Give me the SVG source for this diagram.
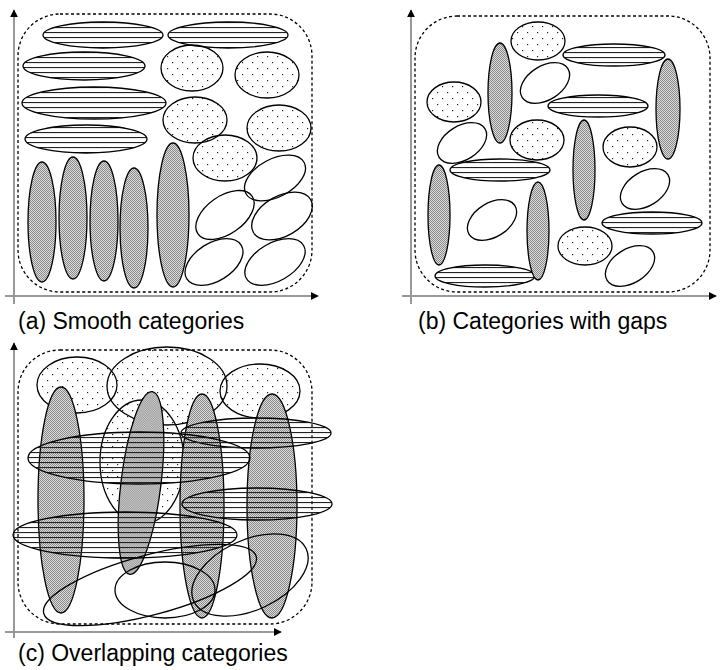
<svg xmlns="http://www.w3.org/2000/svg" width="723" height="670" viewBox="0 0 723 670">
<defs>
<pattern id="hatch" width="6" height="5" patternUnits="userSpaceOnUse"><rect x="0" y="2" width="6" height="1.1" fill="#222"/></pattern>
<pattern id="dots" width="10" height="12" patternUnits="userSpaceOnUse"><rect x="2" y="2" width="1.2" height="1.2" fill="#222"/><rect x="7" y="8" width="1.2" height="1.2" fill="#222"/></pattern>
<pattern id="gray" width="2" height="2" patternUnits="userSpaceOnUse"><rect width="2" height="2" fill="#dcdcdc"/><rect width="1" height="1" fill="#8a8a8a"/><rect x="1" y="1" width="1" height="1" fill="#8a8a8a"/></pattern>
<marker id="arr" viewBox="0 0 10 10" refX="9" refY="5" markerWidth="8" markerHeight="8" markerUnits="userSpaceOnUse" orient="auto"><path d="M0,0 L10,5 L0,10 z" fill="#000"/></marker>
</defs>
<style>
.ax{stroke:#999;stroke-width:2;fill:none}
.box{fill:none;stroke:#000;stroke-width:1.3;stroke-dasharray:3 2.5}
.h{fill:url(#hatch);stroke:#000;stroke-width:1.3}
.d{fill:url(#dots);stroke:#000;stroke-width:1.3}
.g{fill:url(#gray);stroke:#000;stroke-width:1.3}
.w{fill:none;stroke:#000;stroke-width:1.3}
.lbl{font-family:"Liberation Sans",Arial,sans-serif;font-size:23px;fill:#000}
</style>
<rect width="723" height="670" fill="#fff"/>

<g id="panel-a">
<g id="axes-a">
<line class="ax" x1="14" y1="304" x2="14" y2="10" marker-end="url(#arr)"/>
<line class="ax" x1="5" y1="296" x2="318" y2="296" marker-end="url(#arr)"/>
</g>
<rect class="box" x="18" y="14" width="294" height="278" rx="42" ry="42"/>
<ellipse class="h" cx="103" cy="35" rx="60" ry="13"/>
<ellipse class="h" cx="84" cy="66" rx="61" ry="14"/>
<ellipse class="h" cx="94" cy="103" rx="72" ry="16"/>
<ellipse class="h" cx="86" cy="139" rx="61" ry="14"/>
<ellipse class="h" cx="228" cy="35" rx="60" ry="13"/>
<ellipse class="d" cx="192" cy="68" rx="31" ry="23"/>
<ellipse class="d" cx="267" cy="75" rx="32" ry="23"/>
<ellipse class="d" cx="195" cy="120" rx="32" ry="23"/>
<ellipse class="d" cx="279" cy="128" rx="32" ry="23"/>
<ellipse class="d" cx="225" cy="158" rx="32" ry="23"/>
<ellipse class="w" cx="0" cy="0" rx="33" ry="19" transform="translate(275 178) rotate(-28)"/>
<ellipse class="w" cx="0" cy="0" rx="33" ry="19" transform="translate(225 215) rotate(-35)"/>
<ellipse class="w" cx="0" cy="0" rx="33" ry="20" transform="translate(282 216) rotate(-30)"/>
<ellipse class="w" cx="0" cy="0" rx="32" ry="19" transform="translate(214 262) rotate(-32)"/>
<ellipse class="w" cx="0" cy="0" rx="33" ry="19" transform="translate(275 262) rotate(-30)"/>
<ellipse class="g" cx="42" cy="222" rx="14" ry="60"/>
<ellipse class="g" cx="73" cy="218" rx="14" ry="61"/>
<ellipse class="g" cx="104" cy="221" rx="14" ry="60"/>
<ellipse class="g" cx="134" cy="228" rx="14" ry="60"/>
<ellipse class="g" cx="173" cy="215" rx="16" ry="72"/>
<text class="lbl" x="18" y="329">(a) Smooth categories</text>
</g>

<g id="panel-b">
<g id="axes-b">
<line class="ax" x1="411" y1="304" x2="411" y2="10" marker-end="url(#arr)"/>
<line class="ax" x1="402" y1="296" x2="716" y2="296" marker-end="url(#arr)"/>
</g>
<rect class="box" x="415" y="16" width="295" height="276" rx="42" ry="42"/>
<ellipse class="d" cx="538" cy="41" rx="27" ry="19"/>
<ellipse class="d" cx="454" cy="102" rx="27" ry="20"/>
<ellipse class="d" cx="537" cy="140" rx="27" ry="20"/>
<ellipse class="d" cx="630" cy="147" rx="27" ry="20"/>
<ellipse class="d" cx="585" cy="246" rx="27" ry="19"/>
<ellipse class="w" cx="0" cy="0" rx="27" ry="17" transform="translate(545 83) rotate(-32)"/>
<ellipse class="w" cx="0" cy="0" rx="27" ry="17" transform="translate(462 143) rotate(-32)"/>
<ellipse class="w" cx="0" cy="0" rx="27" ry="17" transform="translate(492 220) rotate(-32)"/>
<ellipse class="w" cx="0" cy="0" rx="27" ry="17" transform="translate(645 189) rotate(-32)"/>
<ellipse class="w" cx="0" cy="0" rx="27" ry="17" transform="translate(630 266) rotate(-32)"/>
<ellipse class="h" cx="614" cy="55" rx="51" ry="11"/>
<ellipse class="h" cx="598" cy="106" rx="50" ry="11"/>
<ellipse class="h" cx="500" cy="170" rx="50" ry="11"/>
<ellipse class="h" cx="485" cy="276" rx="50" ry="11"/>
<ellipse class="h" cx="652" cy="223" rx="50" ry="11"/>
<ellipse class="g" cx="500" cy="93" rx="12" ry="50"/>
<ellipse class="g" cx="668" cy="109" rx="12" ry="50"/>
<ellipse class="g" cx="584" cy="170" rx="11" ry="50"/>
<ellipse class="g" cx="439" cy="215" rx="11" ry="50"/>
<ellipse class="g" cx="538" cy="231" rx="11" ry="49"/>
<text class="lbl" x="418" y="329">(b) Categories with gaps</text>
</g>

<g id="panel-c">
<g id="axes-c">
<line class="ax" x1="14" y1="638" x2="14" y2="343" marker-end="url(#arr)"/>
<line class="ax" x1="5" y1="632" x2="281" y2="632" marker-end="url(#arr)"/>
</g>
<rect class="box" x="18" y="350" width="294" height="274" rx="42" ry="42"/>
<ellipse class="d" cx="142" cy="462" rx="42" ry="62"/>
<ellipse class="d" cx="77" cy="385" rx="40" ry="28"/>
<ellipse class="d" cx="167" cy="386" rx="60" ry="39"/>
<ellipse class="d" cx="260" cy="391" rx="40" ry="27"/>
<ellipse class="g" cx="61" cy="500" rx="23" ry="113"/>
<ellipse class="g" cx="0" cy="0" rx="20" ry="92" transform="translate(141 483) rotate(7)"/>
<ellipse class="g" cx="202" cy="506" rx="22" ry="112"/>
<ellipse class="g" cx="272" cy="506" rx="25" ry="112"/>
<ellipse class="h" cx="256" cy="433" rx="75" ry="15"/>
<ellipse class="h" cx="139" cy="458" rx="111" ry="26"/>
<ellipse class="h" cx="257" cy="504" rx="75" ry="16"/>
<ellipse class="h" cx="125" cy="535" rx="112" ry="23"/>
<ellipse class="w" cx="0" cy="0" rx="62" ry="35" transform="translate(250 575) rotate(-25)"/>
<ellipse class="w" cx="0" cy="0" rx="110" ry="30" transform="translate(150 585) rotate(-15)"/>
<ellipse class="w" cx="0" cy="0" rx="50" ry="28" transform="translate(165 590)"/>
<text class="lbl" x="18" y="661">(c) Overlapping categories</text>
</g>
</svg>
